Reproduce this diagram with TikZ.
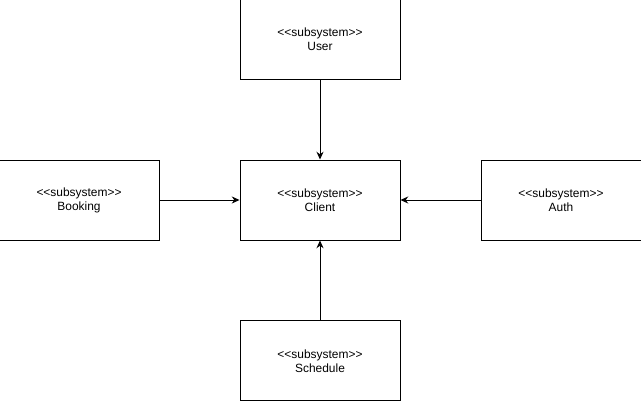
\documentclass[tikz,border=0pt]{standalone}
\usepackage{fontspec}
\setmainfont{Liberation Sans}
\usetikzlibrary{positioning,arrows.meta}
\newcommand{\stereo}{{<}{<}subsystem{>}{>}}
\begin{document}
\begin{tikzpicture}[
		subsys/.style={draw, line width=0.7pt, minimum width=4cm, minimum height=2cm, align=center,
			font=\fontsize{8.5}{10}\selectfont, inner sep=0pt},
		dep/.style={line width=0.7pt, -{Stealth[length=5.5pt, width=5pt]}},
		node distance=2cm
	]
	\useasboundingbox (0,0) rectangle (16.025,-10.05);
	% 中心子系统
	\node[subsys] (client) at (8,-5) {\stereo\\Client};
	% 周围的子系统
	\node[subsys, above=of client] (user) {\stereo\\User};
	\node[subsys, left=of client] (booking) {\stereo\\Booking};
	\node[subsys, right=of client] (auth) {\stereo\\Auth};
	\node[subsys, below=of client] (schedule) {\stereo\\Schedule};

	% 依赖箭头都指向 Client
	\foreach \s in {user, booking, auth, schedule}
		\draw[dep] (\s) -- (client);
\end{tikzpicture}
\end{document}
